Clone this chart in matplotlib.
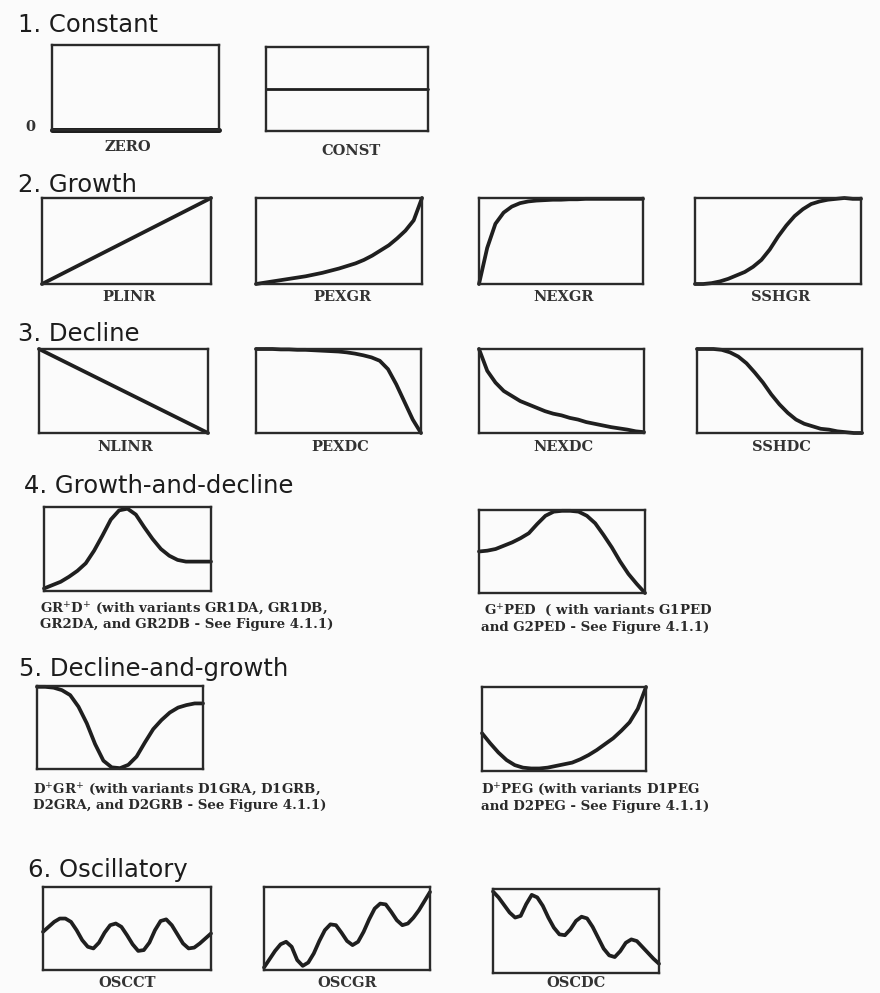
import numpy as np
import matplotlib.pyplot as plt

W, H = 880, 993
INK = '#1f1f1f'

# behaviour pattern curves, 0 = bottom of the frame, 1 = top, evenly spaced in time
zero = [0.0, 0.0]
const = [0.5, 0.5]

plinr = [0.0, 1.0]
pexgr = [0.0, 0.015, 0.03, 0.045, 0.06, 0.075, 0.09, 0.11, 0.13, 0.155, 0.18,
         0.21, 0.24, 0.28, 0.33, 0.39, 0.45, 0.53, 0.62, 0.74, 1.0]
nexgr = [0.0, 0.42, 0.70, 0.83, 0.90, 0.94, 0.96, 0.97, 0.975, 0.98, 0.98,
         0.985, 0.985, 0.99, 0.99, 0.99, 0.99, 0.99, 0.99, 0.99, 0.99]
sshgr = [0.0, 0.0, 0.01, 0.03, 0.06, 0.10, 0.14, 0.20, 0.28, 0.40, 0.55,
         0.68, 0.79, 0.87, 0.93, 0.96, 0.98, 0.99, 1.0, 0.99, 0.99]

nlinr = [1.0, 0.0]
pexdc = [1.0, 1.0, 1.0, 0.995, 0.995, 0.99, 0.99, 0.985, 0.98, 0.975, 0.97,
         0.96, 0.945, 0.925, 0.90, 0.86, 0.76, 0.58, 0.37, 0.16, 0.0]
nexdc = [1.0, 0.74, 0.60, 0.50, 0.44, 0.38, 0.34, 0.30, 0.26, 0.23, 0.21,
         0.18, 0.16, 0.13, 0.11, 0.09, 0.07, 0.055, 0.04, 0.02, 0.01]
sshdc = [1.0, 1.0, 1.0, 0.99, 0.96, 0.91, 0.83, 0.72, 0.60, 0.46, 0.34,
         0.24, 0.16, 0.11, 0.08, 0.05, 0.04, 0.02, 0.01, 0.0, 0.0]

grd = [0.03, 0.07, 0.11, 0.17, 0.24, 0.33, 0.48, 0.66, 0.85, 0.96, 0.98,
       0.91, 0.76, 0.62, 0.50, 0.42, 0.37, 0.35, 0.35, 0.35, 0.35]
gped = [0.50, 0.51, 0.53, 0.57, 0.61, 0.66, 0.72, 0.83, 0.93, 0.98, 0.99,
        0.99, 0.98, 0.93, 0.84, 0.70, 0.55, 0.38, 0.23, 0.11, 0.0]

dgr = [0.99, 0.99, 0.98, 0.95, 0.89, 0.75, 0.55, 0.30, 0.10, 0.02, 0.01,
       0.05, 0.15, 0.32, 0.48, 0.59, 0.68, 0.74, 0.77, 0.79, 0.79]
dpeg = [0.45, 0.33, 0.22, 0.13, 0.07, 0.04, 0.03, 0.03, 0.04, 0.06, 0.08,
        0.10, 0.14, 0.19, 0.25, 0.32, 0.39, 0.48, 0.58, 0.74, 1.0]

oscct = [0.46, 0.52, 0.58, 0.62, 0.62, 0.58, 0.48, 0.36, 0.28, 0.26, 0.33,
         0.45, 0.54, 0.56, 0.52, 0.42, 0.31, 0.23, 0.24, 0.33, 0.48,
         0.59, 0.61, 0.54, 0.43, 0.32, 0.26, 0.27, 0.32, 0.38, 0.44]
oscgr = [0.03, 0.13, 0.23, 0.31, 0.34, 0.28, 0.12, 0.05, 0.09, 0.20, 0.35,
         0.48, 0.55, 0.54, 0.45, 0.35, 0.30, 0.34, 0.46, 0.61, 0.74,
         0.80, 0.79, 0.70, 0.60, 0.54, 0.56, 0.63, 0.72, 0.83, 0.94]
oscdc = [0.97, 0.90, 0.81, 0.72, 0.66, 0.68, 0.82, 0.93, 0.90, 0.80, 0.66,
         0.54, 0.46, 0.45, 0.52, 0.62, 0.67, 0.65, 0.55, 0.42, 0.29,
         0.21, 0.19, 0.26, 0.36, 0.40, 0.38, 0.31, 0.24, 0.17, 0.11]

headings = ['1. Constant', '2. Growth', '3. Decline', '4. Growth-and-decline',
            '5. Decline-and-growth', '6. Oscillatory']

fig = plt.figure(figsize=(W / 100, H / 100), dpi=100, facecolor='#fbfbfb')
plt.rcParams['mathtext.fontset'] = 'dejavuserif'


def px_text(x, y, s, **kw):
    fig.text(x / W, 1 - y / H, s, **kw)


def panel(x0, y0, x1, y1, vals, lw=2.7):
    ax = fig.add_axes([x0 / W, 1 - y1 / H, (x1 - x0) / W, (y1 - y0) / H])
    ax.set_facecolor('none')
    ax.plot(np.linspace(0, 1, len(vals)), vals, color=INK, lw=lw,
            solid_capstyle='round', solid_joinstyle='round', clip_on=False)
    ax.set_xlim(0, 1)
    ax.set_ylim(0, 1)
    ax.set_xticks([])
    ax.set_yticks([])
    for sp in ax.spines.values():
        sp.set_linewidth(1.7)
        sp.set_color('#2a2a2a')
    return ax


head_kw = dict(family='DejaVu Sans', fontsize=17.5, color='#1c1c1c',
               va='baseline', ha='left')
lab_kw = dict(family='DejaVu Serif', fontweight='bold', fontsize=10.5,
              color='#333333', ha='center', va='center')
cap_kw = dict(family='DejaVu Serif', fontweight='bold', fontsize=9.6,
              color='#2a2a2a', ha='left', va='baseline')

# 1. constant
px_text(18, 32, headings[0], **head_kw)
panel(52, 45, 219, 130, zero, lw=3.6)
panel(266, 47, 428, 131, const, lw=2.0)
px_text(30, 127, '0', **lab_kw)
px_text(128, 147, 'ZERO', **lab_kw)
px_text(351, 151, 'CONST', **lab_kw)

# 2. growth
px_text(18, 192, headings[1], **head_kw)
row2 = [(42, 211, plinr, 'PLINR'), (256, 422, pexgr, 'PEXGR'),
        (479, 643, nexgr, 'NEXGR'), (695, 861, sshgr, 'SSHGR')]
for x0, x1, vals, name in row2:
    panel(x0, 198, x1, 284, vals)
    px_text((x0 + x1) / 2 + 3, 297, name, **lab_kw)

# 3. decline
px_text(18, 341, headings[2], **head_kw)
row3 = [(39, 208, nlinr, 'NLINR'), (256, 421, pexdc, 'PEXDC'),
        (479, 644, nexdc, 'NEXDC'), (697, 862, sshdc, 'SSHDC')]
for x0, x1, vals, name in row3:
    panel(x0, 349, x1, 433, vals)
    px_text((x0 + x1) / 2 + 2, 447, name, **lab_kw)

# 4. growth-and-decline
px_text(24, 493, headings[3], **head_kw)
panel(44, 507, 211, 591, grd)
panel(479, 510, 645, 593, gped)
px_text(40, 612, 'GR$^{+}$D$^{+}$ (with variants GR1DA, GR1DB,', **cap_kw)
px_text(40, 628, 'GR2DA, and GR2DB - See Figure 4.1.1)', **cap_kw)
px_text(484, 615, 'G$^{+}$PED  ( with variants G1PED', **cap_kw)
px_text(481, 631, 'and G2PED - See Figure 4.1.1)', **cap_kw)

# 5. decline-and-growth
px_text(19, 676, headings[4], **head_kw)
panel(37, 686, 203, 769, dgr)
panel(482, 687, 646, 771, dpeg)
px_text(33, 793, 'D$^{+}$GR$^{+}$ (with variants D1GRA, D1GRB,', **cap_kw)
px_text(33, 809, 'D2GRA, and D2GRB - See Figure 4.1.1)', **cap_kw)
px_text(481, 794, 'D$^{+}$PEG (with variants D1PEG', **cap_kw)
px_text(481, 810, 'and D2PEG - See Figure 4.1.1)', **cap_kw)

# 6. oscillatory
px_text(28, 877, headings[5], **head_kw)
row6 = [(43, 211, 887, 970, oscct, 'OSCCT'), (264, 430, 887, 970, oscgr, 'OSCGR'),
        (493, 659, 889, 973, oscdc, 'OSCDC')]
for x0, x1, y0, y1, vals, name in row6:
    panel(x0, y0, x1, y1, vals)
    px_text((x0 + x1) / 2, min(y1 + 15, 983), name, **lab_kw)

fig.savefig('out.png', dpi=100, facecolor=fig.get_facecolor())
